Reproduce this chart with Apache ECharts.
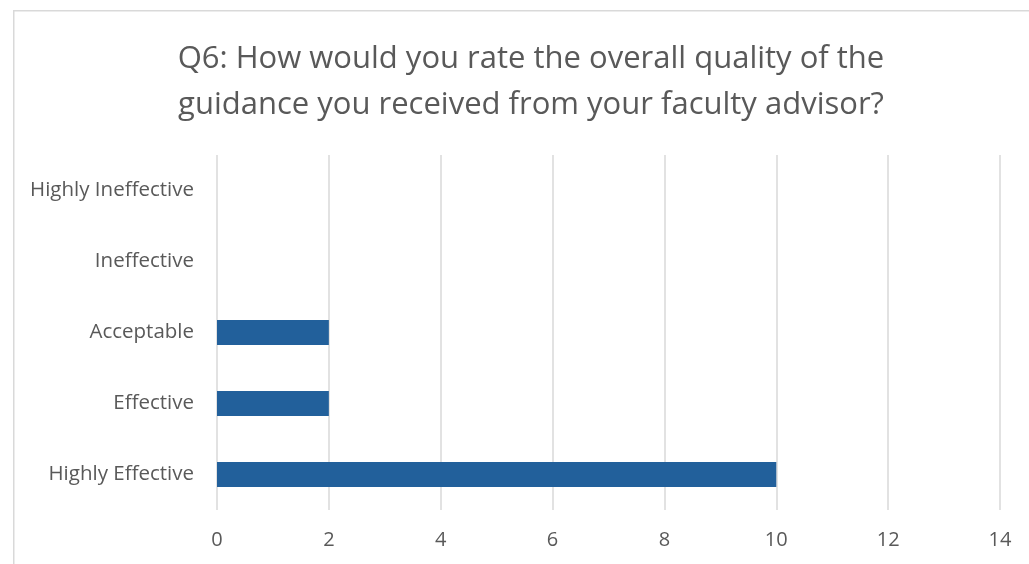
<!DOCTYPE html>
<html>
<head>
<meta charset="utf-8">
<script src="https://cdn.jsdelivr.net/npm/echarts@6/dist/echarts.min.js"></script>
<style>html,body{margin:0;padding:0;background:#fff;}#c{width:1029px;height:564px;}</style>
</head>
<body>
<div id="c"></div>
<script>
const categories = ["Highly Effective", "Effective", "Acceptable", "Ineffective", "Highly Ineffective"];
const counts = [10, 2, 2, 0, 0];
const titleText = "Q6: How would you rate the overall quality of the\nguidance you received from your faculty advisor?";

const chart = echarts.init(document.getElementById('c'));
chart.setOption({
  animation: false,
  backgroundColor: '#ffffff',
  graphic: [{
    type: 'rect', left: 13, top: 10, z: -1,
    shape: { width: 1040, height: 600 },
    style: { fill: '#ffffff', stroke: '#d9d9d9', lineWidth: 1.5 }
  }],
  title: {
    text: titleText,
    left: 526, top: 31, textAlign: 'center',
    textStyle: { fontFamily: 'Open Sans', fontWeight: 'normal', fontSize: 31, color: '#595959', lineHeight: 46 }
  },
  grid: { left: 217, right: 29, top: 155, bottom: 54, containLabel: false },
  xAxis: {
    type: 'value', min: 0, max: 14, interval: 2,
    axisLine: { show: false }, axisTick: { show: false },
    splitLine: { lineStyle: { color: '#d9d9d9', width: 1.5 } },
    axisLabel: { color: '#595959', fontSize: 20, fontFamily: 'Open Sans', margin: 20 }
  },
  yAxis: {
    type: 'category', data: categories,
    axisLine: { show: false }, axisTick: { show: false },
    axisLabel: { color: '#595959', fontSize: 20.5, fontFamily: 'Open Sans', margin: 23 }
  },
  series: [{
    type: 'bar', data: counts, barCategoryGap: '65%',
    itemStyle: { color: '#22609b' }
  }]
});
</script>
</body>
</html>
